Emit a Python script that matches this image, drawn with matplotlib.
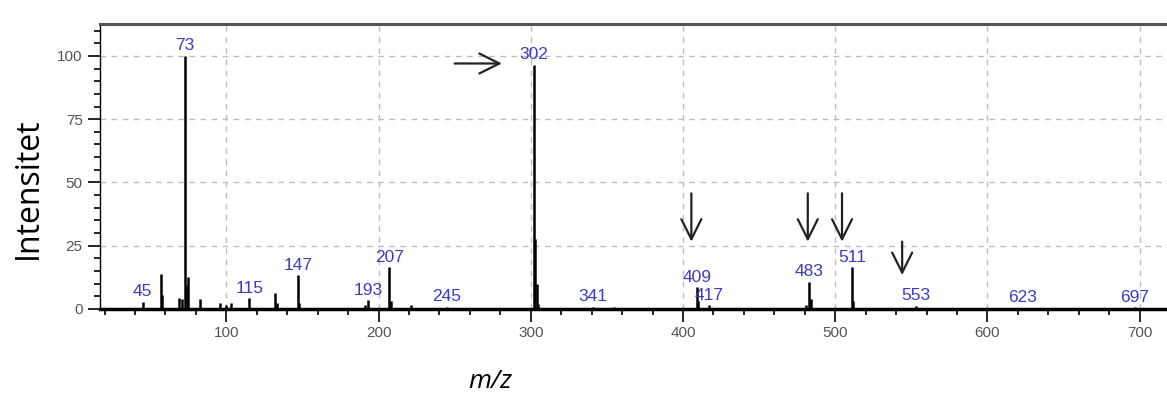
import matplotlib
matplotlib.use('Agg')
import matplotlib.pyplot as plt
from matplotlib.ticker import MultipleLocator

# peaks (m/z, relative intensity)
peak_mz = [45, 57, 58, 69, 71, 73, 74, 75, 83, 96, 100, 103, 115, 132, 133,
           147, 148, 191, 193, 207, 208, 221, 245, 302, 303, 304, 305, 341,
           355, 409, 410, 417, 481, 483, 484, 511, 512, 553, 623, 697]
peak_int = [2.9, 13.7, 5.5, 4.2, 4.0, 100, 9.5, 12.8, 3.8, 2.4, 1.5, 2.4, 4.2, 6.2, 2.5,
            13.4, 2.5, 1.5, 3.5, 16.5, 3.0, 1.6, 0.8, 96.5, 27.5, 10.0, 2.0, 0.8,
            0.8, 8.5, 3.0, 1.5, 1.5, 10.8, 4.0, 16.5, 3.0, 1.2, 0.5, 0.6]

labelled = [45, 73, 115, 147, 193, 207, 245, 302, 341, 409, 417, 483, 511, 553, 623, 697]
arrow_down = [409, 483, 511, 553]

intensity = dict(zip(peak_mz, peak_int))

fig = plt.figure(figsize=(11.67, 3.99), dpi=100)
ax = fig.add_axes([100 / 1167, 1 - 309 / 399, 1 - 100 / 1167, 285 / 399])

ax.vlines(peak_mz, 0, peak_int, color='black', lw=1.8)

for mz in labelled:
    ax.text(mz, intensity[mz] + 1.0, str(mz), color='#3b3bc8', fontsize=12.5,
            family='Liberation Sans', ha='center', va='bottom')

# arrows pointing at the marked peaks
arr = dict(arrowstyle='->,head_length=0.6,head_width=0.3', lw=1.6, color='#222222',
           mutation_scale=24, shrinkA=0, shrinkB=0)
ax.annotate('', xy=(281, 97), xytext=(250, 97), arrowprops=arr)
shifts = {409: -3.5, 483: -1, 511: -6.5, 553: -9}
for mz in arrow_down:
    x = mz + shifts[mz]
    if mz == 553:
        ax.annotate('', xy=(x, 13.4), xytext=(x, 26.6), arrowprops=arr)
    else:
        ax.annotate('', xy=(x, 26.6), xytext=(x, 45.7), arrowprops=arr)

ax.set_xlim(17, 718)
ax.set_ylim(0, 112.6)
ax.xaxis.set_major_locator(MultipleLocator(100))
ax.xaxis.set_minor_locator(MultipleLocator(20))
ax.yaxis.set_major_locator(MultipleLocator(25))
ax.yaxis.set_minor_locator(MultipleLocator(5))

ax.grid(True, which='major', color='#bdbdbd', ls=(0, (4, 4)), lw=1)
ax.set_axisbelow(True)

ax.tick_params(which='major', direction='out', length=9, width=1.2, color='black',
               labelsize=11, labelcolor='#555555')
ax.tick_params(which='minor', direction='out', length=4, width=1.2, color='black')
for lab in ax.get_xticklabels() + ax.get_yticklabels():
    lab.set_family('Liberation Sans')

ax.spines['bottom'].set_linewidth(2.5)
ax.spines['top'].set_linewidth(2.2)
ax.spines['top'].set_color('#555555')
ax.spines['left'].set_linewidth(1)
ax.spines['right'].set_visible(False)

fig.text(28 / 1167, 1 - 188 / 399, 'Intensitet', rotation=90, fontsize=23,
         family='Open Sans', ha='center', va='center')
fig.text(490 / 1167, 1 - 382 / 399, 'm/z', fontsize=19, style='italic',
         family='Open Sans', ha='center', va='center')

fig.savefig('out.png', dpi=100)
